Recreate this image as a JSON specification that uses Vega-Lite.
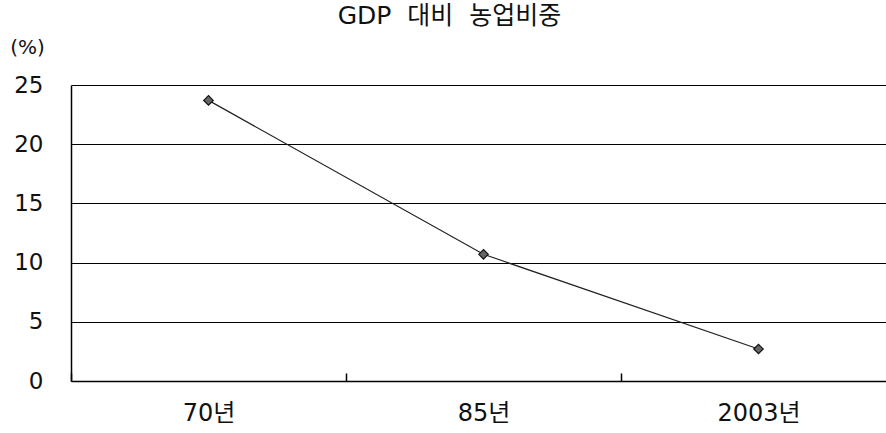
{
  "$schema": "https://vega.github.io/schema/vega-lite/v6.json",
  "autosize": "none",
  "width": 815,
  "height": 296,
  "padding": {"left": 71, "top": 85, "right": 0, "bottom": 52},
  "background": "white",
  "config": {
    "view": {"stroke": null},
    "font": "DejaVu Sans, Noto Sans CJK KR",
    "axis": {"labelFont": "DejaVu Sans, Noto Sans CJK KR", "titleFont": "DejaVu Sans, Noto Sans CJK KR"}
  },
  "title": {
    "text": "GDP\u00a0\u00a0대비\u00a0\u00a0농업비중",
    "font": "DejaVu Sans, Noto Sans CJK KR",
    "fontSize": 25,
    "fontWeight": "normal",
    "color": "#111",
    "anchor": "middle",
    "frame": "group",
    "dx": -29,
    "baseline": "alphabetic",
    "offset": -12
  },
  "data": {
    "values": [
      {"year": "70년", "share": 23.7},
      {"year": "85년", "share": 10.7},
      {"year": "2003년", "share": 2.7}
    ]
  },
  "encoding": {
    "x": {
      "field": "year",
      "type": "ordinal",
      "sort": null,
      "scale": {"type": "band", "paddingInner": 0, "paddingOuter": 0, "range": [0, 825]},
      "axis": {
        "title": null,
        "labelAngle": 0,
        "labelFontSize": 24,
        "labelColor": "#111",
        "labelBaseline": "middle",
        "labelPadding": 40,
        "domainColor": "#000",
        "domainWidth": 1.5,
        "tickBand": "extent",
        "tickSize": -8,
        "tickColor": "#000",
        "tickWidth": 1.5,
        "grid": false
      }
    },
    "y": {
      "field": "share",
      "type": "quantitative",
      "scale": {"domain": [0, 25], "nice": false},
      "axis": {
        "values": [0, 5, 10, 15, 20, 25],
        "title": "(%)",
        "titleAngle": 0,
        "titleFontSize": 20,
        "titleFontWeight": "normal",
        "titleColor": "#111",
        "titleAlign": "center",
        "titleBaseline": "middle",
        "titleX": -44,
        "titleY": -38,
        "labelFontSize": 23,
        "labelColor": "#111",
        "labelPadding": 28,
        "ticks": false,
        "domainColor": "#000",
        "domainWidth": 1.5,
        "grid": true,
        "gridColor": "#000",
        "gridWidth": 1.2
      }
    }
  },
  "layer": [
    {
      "mark": {"type": "line", "color": "#222", "strokeWidth": 1.2}
    },
    {
      "mark": {
        "type": "point",
        "shape": "diamond",
        "size": 90,
        "filled": true,
        "fill": "#666",
        "stroke": "#111",
        "strokeWidth": 1.2,
        "opacity": 1
      }
    }
  ]
}
